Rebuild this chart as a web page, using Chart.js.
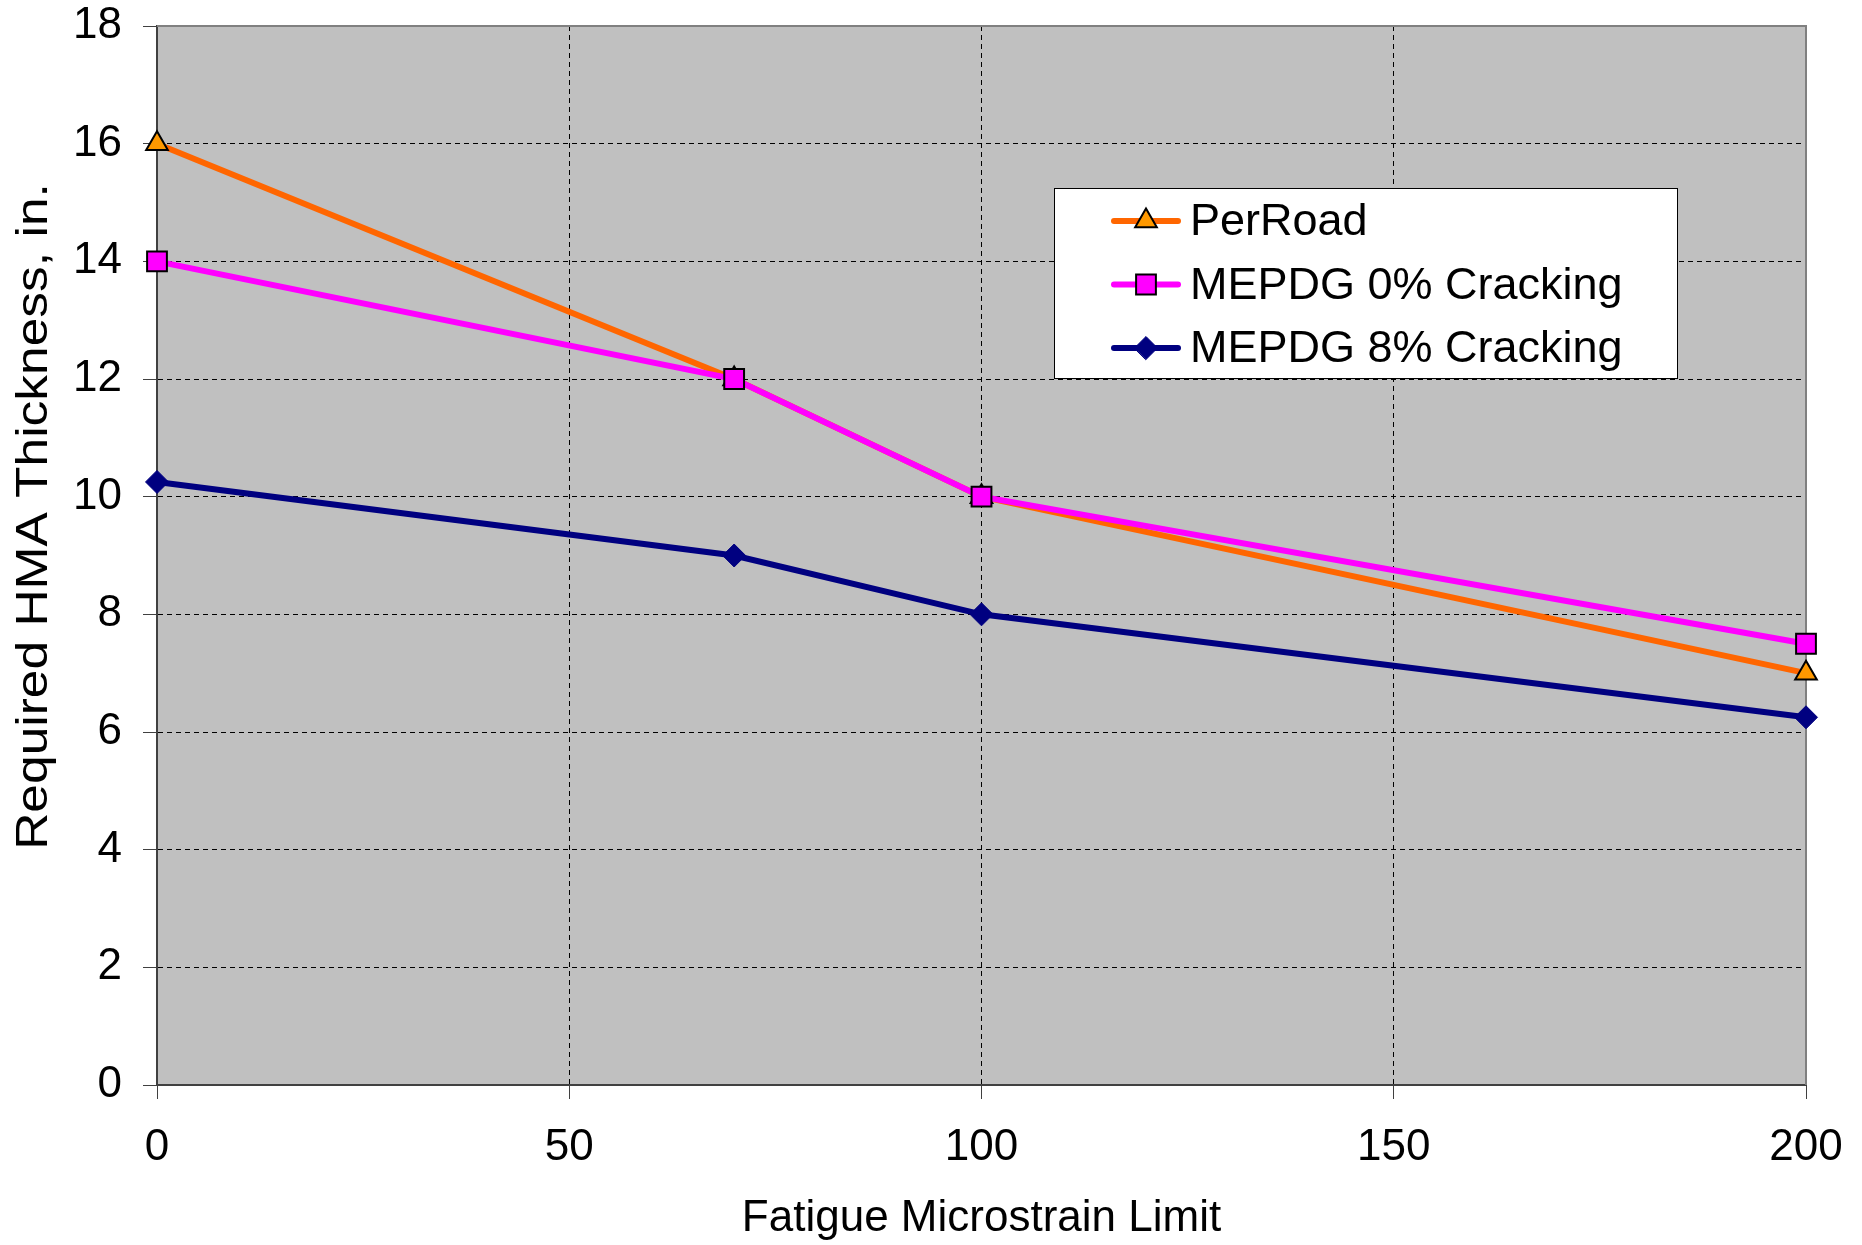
<!DOCTYPE html>
<html>
<head>
<meta charset="utf-8">
<title>Required HMA Thickness vs Fatigue Microstrain Limit</title>
<script src="https://cdn.jsdelivr.net/npm/chart.js@4.4.1/dist/chart.umd.min.js"></script>
<style>
    html, body { margin: 0; padding: 0; background: #ffffff; }
    canvas { display: block; }
</style>
</head>
<body>
<canvas id="thicknessChart" width="1862" height="1245"></canvas>
<script>
// data
const microstrainLimits = [0, 70, 100, 200];
const perRoadThickness = [16, 12, 10, 7];
const mepdg0Thickness = [14, 12, 10, 7.5];
const mepdg8Thickness = [10.25, 9, 8, 6.25];

const seriesLabels = ["PerRoad", "MEPDG 0% Cracking", "MEPDG 8% Cracking"];
const xAxisRange = [0, 200];
const yAxisRange = [0, 18];
const xTickStep = 50;
const yTickStep = 2;

const xAxisTitle = "Fatigue Microstrain Limit";
const yAxisTitle = "Required HMA Thickness, in.";

const fontFamily = '"Liberation Sans", Arial, sans-serif';
Chart.defaults.font.family = fontFamily;
Chart.defaults.color = "#000";

function toPoints(values) {
    return microstrainLimits.map((x, i) => ({ x: x, y: values[i] }));
}

// grey plot background + grey top/right frame like the spreadsheet original
const plotAreaPlugin = {
    id: "plotArea",
    beforeDraw(chart) {
        const { ctx, chartArea } = chart;
        ctx.save();
        ctx.fillStyle = "#C0C0C0";
        ctx.fillRect(chartArea.left, chartArea.top, chartArea.width, chartArea.height);
        ctx.restore();
    },
    beforeDatasetsDraw(chart) {
        const { ctx, chartArea } = chart;
        ctx.save();
        ctx.strokeStyle = "#808080";
        ctx.lineWidth = 2;
        ctx.beginPath();
        ctx.moveTo(chartArea.left, chartArea.top);
        ctx.lineTo(chartArea.right, chartArea.top);
        ctx.lineTo(chartArea.right, chartArea.bottom);
        ctx.stroke();
        ctx.restore();
    },
};

// the original's vertical title is stretched along its length
const yTitlePlugin = {
    id: "yTitle",
    afterDraw(chart, args, opts) {
        const { ctx, chartArea } = chart;
        const centerY = (chartArea.top + chartArea.bottom) / 2 + opts.shift;
        ctx.save();
        ctx.translate(opts.x, centerY);
        ctx.rotate(-Math.PI / 2);
        ctx.scale(opts.stretch, 1);
        ctx.fillStyle = "#000";
        ctx.font = "44px " + fontFamily;
        ctx.textAlign = "center";
        ctx.textBaseline = "middle";
        ctx.fillText(opts.text, 0, 0);
        ctx.restore();
    },
};

// boxed legend with line + marker samples, placed inside the plot
const lineLegendPlugin = {
    id: "lineLegend",
    afterDraw(chart, args, opts) {
        const { ctx, chartArea } = chart;
        const boxLeft = chartArea.left + opts.left;
        const boxTop = chartArea.top + opts.top;

        ctx.save();
        ctx.fillStyle = "#fff";
        ctx.fillRect(boxLeft, boxTop, opts.width, opts.height);
        ctx.strokeStyle = "#000";
        ctx.lineWidth = 1;
        ctx.strokeRect(boxLeft + 0.5, boxTop + 0.5, opts.width, opts.height);

        chart.data.datasets.forEach((dataset, i) => {
            const rowY = boxTop + opts.firstRow + i * opts.rowGap;
            const lineStart = boxLeft + opts.lineStart;
            const lineEnd = lineStart + opts.lineLength;

            ctx.strokeStyle = dataset.borderColor;
            ctx.lineWidth = dataset.borderWidth;
            ctx.lineCap = "round";
            ctx.beginPath();
            ctx.moveTo(lineStart, rowY);
            ctx.lineTo(lineEnd, rowY);
            ctx.stroke();

            ctx.fillStyle = dataset.pointBackgroundColor;
            ctx.strokeStyle = dataset.pointBorderColor;
            ctx.lineWidth = dataset.pointBorderWidth;
            Chart.helpers.drawPoint(
                ctx,
                {
                    pointStyle: dataset.pointStyle,
                    radius: dataset.pointRadius,
                    rotation: 0,
                    borderWidth: dataset.pointBorderWidth,
                },
                (lineStart + lineEnd) / 2,
                rowY
            );

            ctx.fillStyle = "#000";
            ctx.font = "45px " + fontFamily;
            ctx.textBaseline = "middle";
            ctx.textAlign = "left";
            ctx.fillText(dataset.label, boxLeft + opts.textStart, rowY + 2);
        });
        ctx.restore();
    },
};

const chartData = {
    datasets: [
        {
            label: seriesLabels[0],
            data: toPoints(perRoadThickness),
            borderColor: "#FF6600",
            borderWidth: 6,
            pointStyle: "triangle",
            pointRadius: 12.5,
            pointHoverRadius: 12.5,
            pointBackgroundColor: "#FF9900",
            pointBorderColor: "#000",
            pointBorderWidth: 2,
            order: 1,
        },
        {
            label: seriesLabels[1],
            data: toPoints(mepdg0Thickness),
            borderColor: "#FF00FF",
            borderWidth: 6,
            pointStyle: "rect",
            pointRadius: 14,
            pointHoverRadius: 14,
            pointBackgroundColor: "#FF00FF",
            pointBorderColor: "#000",
            pointBorderWidth: 2,
            order: 0,
        },
        {
            label: seriesLabels[2],
            data: toPoints(mepdg8Thickness),
            borderColor: "#000080",
            borderWidth: 6,
            pointStyle: "rectRot",
            pointRadius: 11.5,
            pointHoverRadius: 11.5,
            pointBackgroundColor: "#000080",
            pointBorderColor: "#000080",
            pointBorderWidth: 1,
            order: 2,
        },
    ],
};

new Chart(document.getElementById("thicknessChart"), {
    type: "line",
    data: chartData,
    plugins: [plotAreaPlugin, yTitlePlugin, lineLegendPlugin],
    options: {
        responsive: false,
        animation: false,
        devicePixelRatio: 1,
        clip: false,
        layout: {
            padding: { top: 26, right: 56, left: 0, bottom: 0 },
        },
        elements: {
            line: { tension: 0 },
        },
        plugins: {
            legend: { display: false },
            tooltip: { enabled: false },
            yTitle: { text: yAxisTitle, x: 35, shift: -39, stretch: 1.17 },
            lineLegend: {
                left: 897,
                top: 162,
                width: 623,
                height: 190,
                firstRow: 33,
                rowGap: 63.5,
                lineStart: 60,
                lineLength: 64,
                textStart: 136,
            },
        },
        scales: {
            x: {
                type: "linear",
                min: xAxisRange[0],
                max: xAxisRange[1],
                afterFit: (scale) => {
                    scale.height = 160;
                    scale.paddingLeft = 0;
                    scale.paddingRight = 0;
                },
                ticks: {
                    stepSize: xTickStep,
                    padding: 22,
                    font: { size: 44 },
                    maxRotation: 0,
                },
                grid: {
                    color: (ctx) =>
                        ctx.tick && ctx.tick.value === xAxisRange[1]
                            ? "rgba(0,0,0,0)"
                            : "#000",
                    tickColor: "#404040",
                    tickLength: 14,
                    lineWidth: 1,
                },
                border: { color: "#404040", width: 2, dash: [5, 4] },
                title: {
                    display: true,
                    text: xAxisTitle,
                    font: { size: 44 },
                    padding: { top: 0, bottom: 0 },
                },
            },
            y: {
                type: "linear",
                min: yAxisRange[0],
                max: yAxisRange[1],
                afterFit: (scale) => {
                    scale.width = 157;
                    scale.paddingTop = 0;
                    scale.paddingBottom = 0;
                },
                ticks: {
                    stepSize: yTickStep,
                    padding: 21,
                    font: { size: 44 },
                },
                grid: {
                    color: (ctx) =>
                        ctx.tick && ctx.tick.value === yAxisRange[1]
                            ? "rgba(0,0,0,0)"
                            : "#000",
                    tickColor: "#404040",
                    tickLength: 14,
                    lineWidth: 1,
                },
                border: { color: "#404040", width: 2, dash: [5, 4] },
                title: { display: false },
            },
        },
    },
});
</script>
</body>
</html>
